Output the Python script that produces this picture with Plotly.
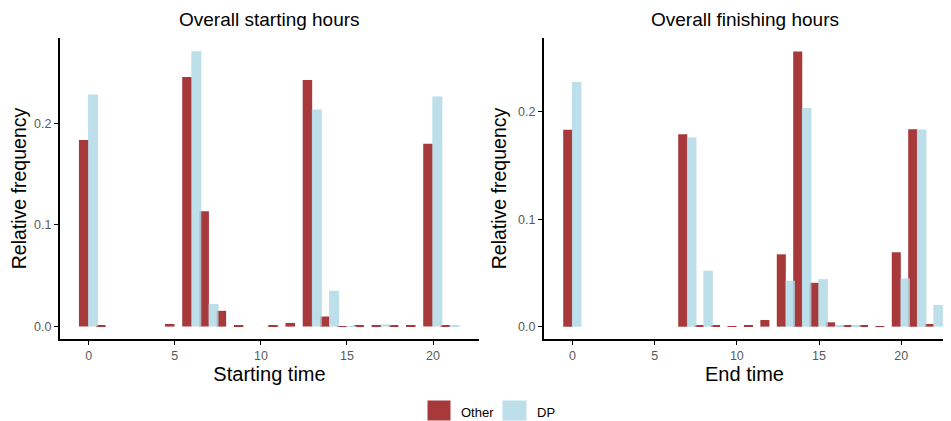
import plotly.graph_objects as go

hours = list(range(24))
N = None

start_other = [0.1836, 0.0008, N, N, N, 0.0026, 0.2455, 0.1135, 0.0155, 0.0010, N, 0.0008,
               0.0036, 0.2426, 0.0099, 0.0005, 0.0010, 0.0010, 0.0008, 0.0008, 0.1799, 0.0015, N, N]
start_dp = [0.2284, N, N, N, N, N, 0.2710, 0.0222, N, N, N, N,
            N, 0.2136, 0.0353, 0.0005, N, 0.0020, N, N, 0.2264, 0.0015, N, N]

end_other = [0.1832, N, N, N, N, N, N, 0.1791, 0.0012, 0.0015, 0.0003, 0.0008,
             0.0062, 0.0673, 0.2560, 0.0408, 0.0040, 0.0010, 0.0010, 0.0004, 0.0692, 0.1838, 0.0025, N]
end_dp = [0.2277, N, N, N, N, N, N, 0.1760, 0.0520, N, N, N,
          N, 0.0427, 0.2034, 0.0442, 0.0015, 0.0015, N, N, 0.0449, 0.1835, 0.0202, N]

x_ticks = [0, 5, 10, 15, 20]
y_ticks = [0.0, 0.1, 0.2]
series_names = ["Other", "DP"]

OTHER = "#A32F31"
DP = "#ADD8E6"
FONT = "Liberation Sans, Arial, sans-serif"

# page body has an 8px margin; figure is sized/positioned to compensate
W, H, OFF = 943, 413, 8

def px_x(x):
    return (x - OFF) / W

def px_y(y):
    return 1 - (y - OFF) / H

fig = go.Figure()

def add_pair(other, dp, xa, ya):
    fig.add_trace(go.Bar(x=hours, y=other, name=series_names[0], marker=dict(color=OTHER, line=dict(width=0)),
                         offset=-0.57, width=0.55, opacity=0.95, xaxis=xa, yaxis=ya, showlegend=False))
    fig.add_trace(go.Bar(x=hours, y=dp, name=series_names[1], marker=dict(color=DP, line=dict(width=0)),
                         offset=-0.04, width=0.58, opacity=0.8, xaxis=xa, yaxis=ya, showlegend=False))

add_pair(start_other, start_dp, "x", "y")
add_pair(end_other, end_dp, "x2", "y2")

axis_common = dict(showline=True, linecolor="black", linewidth=2, ticks="outside",
                   tickcolor="black", ticklen=4, tickwidth=1,
                   tickfont=dict(size=12.5, color="#5A5A5A", family=FONT),
                   zeroline=False, automargin=False)

ydom = [px_y(339), px_y(38)]

# legend drawn as keys + labels at the bottom centre
legend_shapes = [
    dict(type="rect", xref="paper", yref="paper",
         x0=px_x(427), x1=px_x(451), y0=px_y(421), y1=px_y(400),
         fillcolor=OTHER, opacity=0.95, line=dict(width=1, color="white")),
    dict(type="rect", xref="paper", yref="paper",
         x0=px_x(502), x1=px_x(527), y0=px_y(421), y1=px_y(400),
         fillcolor=DP, opacity=0.8, line=dict(width=1, color="white")),
]
legend_labels = [
    dict(text=series_names[0], x=px_x(459), y=px_y(412), xref="paper", yref="paper",
         xanchor="left", yanchor="middle", showarrow=False, font=dict(size=13, family=FONT)),
    dict(text=series_names[1], x=px_x(535), y=px_y(412), xref="paper", yref="paper",
         xanchor="left", yanchor="middle", showarrow=False, font=dict(size=13, family=FONT)),
]

fig.update_layout(
    width=W, height=H,
    margin=dict(l=0, r=0, t=0, b=0, autoexpand=False),
    paper_bgcolor="white", plot_bgcolor="white",
    barmode="overlay",
    showlegend=False,
    font=dict(family=FONT, color="black"),
    xaxis=dict(domain=[px_x(60), px_x(479)], range=[-1.67, 22.67], anchor="y",
               tickvals=x_ticks, showgrid=False,
               title=dict(text="Starting time", font=dict(size=20, color="black"), standoff=1),
               **axis_common),
    yaxis=dict(domain=ydom, range=[-0.0122, 0.284], anchor="x",
               tickvals=y_ticks, tickformat=".1f", showgrid=True, gridcolor="white",
               minor=dict(dtick=0.05, showgrid=True, gridcolor="white"),
               title=dict(text="Relative frequency", font=dict(size=19.5, color="black"), standoff=6),
               **axis_common),
    xaxis2=dict(domain=[px_x(544), px_x(945)], range=[-1.74, 22.67], anchor="y2",
                tickvals=x_ticks, showgrid=False,
                title=dict(text="End time", font=dict(size=20, color="black"), standoff=1),
                **axis_common),
    yaxis2=dict(domain=ydom, range=[-0.0115, 0.2686], anchor="x2",
                tickvals=y_ticks, tickformat=".1f", showgrid=True, gridcolor="white",
                minor=dict(dtick=0.05, showgrid=True, gridcolor="white"),
                title=dict(text="Relative frequency", font=dict(size=19.5, color="black"), standoff=6),
                **axis_common),
    shapes=legend_shapes,
    annotations=[
        dict(text="Overall starting hours", x=px_x((60 + 479) / 2), y=px_y(19),
             xref="paper", yref="paper", xanchor="center", yanchor="middle",
             showarrow=False, font=dict(size=19, family=FONT)),
        dict(text="Overall finishing hours", x=px_x((544 + 945) / 2), y=px_y(19),
             xref="paper", yref="paper", xanchor="center", yanchor="middle",
             showarrow=False, font=dict(size=19, family=FONT)),
    ] + legend_labels,
)

fig.write_html("out.html")
